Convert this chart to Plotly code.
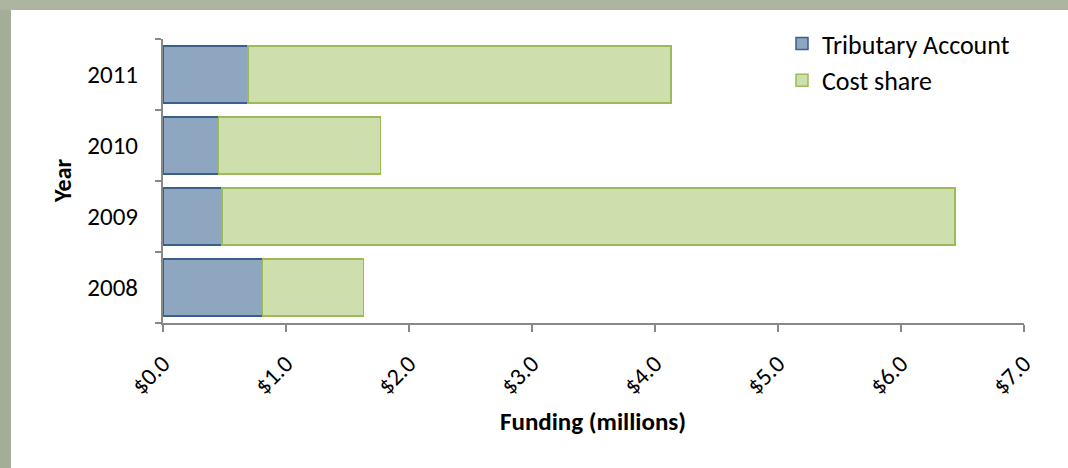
import plotly.graph_objects as go

years = ["2008", "2009", "2010", "2011"]
tributary = [0.81, 0.48, 0.45, 0.69]
cost_share = [0.82, 5.96, 1.32, 3.44]
x_ticks = [0, 1, 2, 3, 4, 5, 6, 7]
x_labels = ["$0.0", "$1.0", "$2.0", "$3.0", "$4.0", "$5.0", "$6.0", "$7.0"]

FONT = "Carlito, Lato, 'Open Sans', sans-serif"
W, H = 1068, 468
L, R, T, B = 163, 44, 39, 145
pw, ph = W - L - R, H - T - B

def px_x(p):
    return (p - L) / pw

def px_y(p):
    return (H - B - p) / ph

fig = go.Figure()
fig.add_trace(go.Bar(
    y=years, x=tributary, orientation="h", name="Tributary Account",
    marker=dict(color="#8FA6C1", line=dict(color="#3A5F8C", width=1.5)),
))
fig.add_trace(go.Bar(
    y=years, x=cost_share, orientation="h", name="Cost share",
    marker=dict(color="#CFDEAD", line=dict(color="#9BBB59", width=1.5)),
))

shapes = [
    dict(type="rect", xref="paper", yref="paper", x0=px_x(0), x1=px_x(11), y0=px_y(H), y1=px_y(0),
         fillcolor="#A5AD98", line=dict(width=0), layer="above"),
    dict(type="rect", xref="paper", yref="paper", x0=px_x(0), x1=px_x(W), y0=px_y(10), y1=px_y(0),
         fillcolor="#ADB5A0", line=dict(width=0), layer="above"),
]

annotations = [
    dict(text="<b>Funding (millions)</b>", x=px_x(593), y=px_y(422), xref="paper", yref="paper",
         showarrow=False, font=dict(family=FONT, size=25, color="#000000"), xanchor="center", yanchor="middle"),
    dict(text="<b>Year</b>", x=px_x(62), y=px_y(181), xref="paper", yref="paper", textangle=-90,
         showarrow=False, font=dict(family=FONT, size=24, color="#000000"), xanchor="center", yanchor="middle"),
]

fig.update_layout(
    barmode="stack",
    bargap=0.2,
    width=W, height=H,
    margin=dict(l=L, r=R, t=T, b=B, autoexpand=False),
    paper_bgcolor="white",
    plot_bgcolor="white",
    font=dict(family=FONT, size=25, color="#000000"),
    showlegend=True,
    legend=dict(x=px_x(782), y=px_y(20), xanchor="left", yanchor="top",
                bgcolor="rgba(0,0,0,0)", font=dict(size=26), traceorder="normal",
                itemwidth=30, tracegroupgap=0),
    shapes=shapes,
    annotations=annotations,
    xaxis=dict(range=[0, 7], tickvals=x_ticks, ticktext=x_labels, tickangle=-45,
               showgrid=False, zeroline=False, showline=True, linecolor="#888888", linewidth=2,
               ticks="outside", ticklen=7, tickcolor="#888888", tickwidth=2,
               tickfont=dict(size=24), automargin=False, ticklabelstandoff=8),
    yaxis=dict(categoryorder="array", categoryarray=years, showgrid=False, zeroline=False,
               showline=True, linecolor="#888888", linewidth=2,
               ticks="outside", ticklen=6, tickcolor="#888888", tickwidth=2, tickson="boundaries",
               tickfont=dict(size=25), automargin=False, ticklabelstandoff=18),
)

fig.write_html("out.html", config={"displayModeBar": False},
               post_script="document.body.style.margin='0';document.body.style.padding='0';")
